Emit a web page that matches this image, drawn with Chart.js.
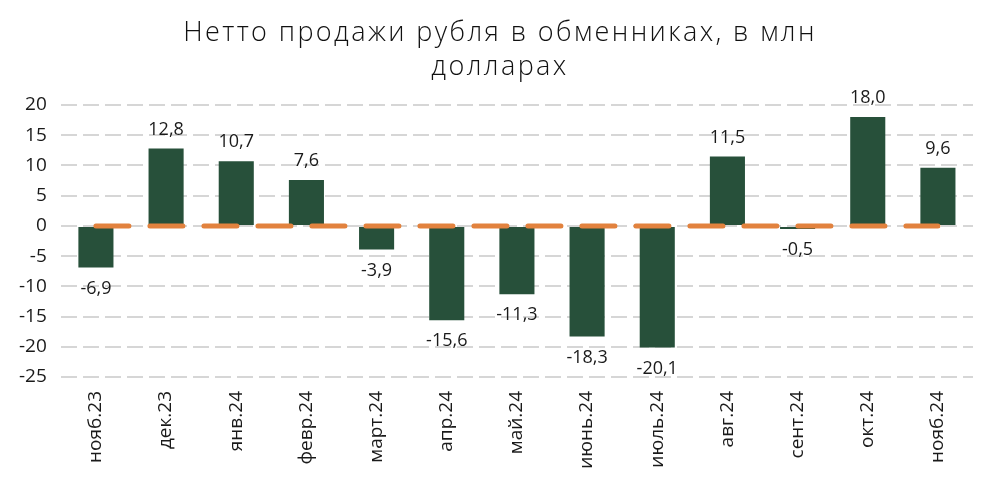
<!DOCTYPE html>
<html><head><meta charset="utf-8">
<script src="https://cdn.jsdelivr.net/npm/chart.js@4/dist/chart.umd.min.js"></script>
<style>html,body{margin:0;padding:0;background:#fff}#wrap{width:995px;height:481px}</style>
</head><body><div id="wrap"><canvas id="c"></canvas></div>
<script>
const categories = ["нояб.23","дек.23","янв.24","февр.24","март.24","апр.24","май.24","июнь.24","июль.24","авг.24","сент.24","окт.24","нояб.24"];
const netSales = [-6.9, 12.8, 10.7, 7.6, -3.9, -15.6, -11.3, -18.3, -20.1, 11.5, -0.5, 18.0, 9.6];
const zeroLine = [0,0,0,0,0,0,0,0,0,0,0,0,0];
const titleLines = ["Нетто продажи рубля в обменниках, в млн", "долларах"];

const FONT = "'Open Sans', sans-serif";
const labelPlugin = {
  id: 'valLabels',
  afterDatasetsDraw(chart) {
    const ctx = chart.ctx;
    const meta = chart.getDatasetMeta(0);
    ctx.save();
    ctx.font = "18px " + FONT;
    ctx.fillStyle = "#1a1a1a";
    ctx.textAlign = "center";
    ctx.textBaseline = "middle";
    meta.data.forEach((el, i) => {
      const v = netSales[i];
      const txt = v.toFixed(1).replace('.', ',');
      const y = v >= 0 ? el.y - 19 : el.y + 21;
      ctx.fillText(txt, el.x, y);
    });
    ctx.restore();
  }
};
const titleSpacing = {
  id: 'titleSpacing',
  beforeDraw(chart) {
    const tb = chart.titleBlock;
    if (tb && !tb._wrapped) {
      const orig = tb.draw.bind(tb);
      tb.draw = function() {
        const ctx = chart.ctx;
        ctx.save();
        ctx.letterSpacing = '2.4px';
        ctx.translate(11, 0);
        orig();
        ctx.restore();
      };
      tb._wrapped = true;
    }
  }
};

new Chart(document.getElementById('c'), {
  data: {
    labels: categories,
    datasets: [
      { type: 'bar', data: netSales, backgroundColor: '#27503a', barPercentage: 0.5, categoryPercentage: 1.0, order: 2 },
      { type: 'line', data: zeroLine, borderColor: '#e2823e', borderWidth: 5, borderDash: [33, 21], borderCapStyle: 'round', pointRadius: 0, order: 1 }
    ]
  },
  options: {
    responsive: true, maintainAspectRatio: false, animation: false,
    layout: { padding: { left: 5, right: 22, top: 4, bottom: 4 } },
    plugins: {
      legend: { display: false },
      tooltip: { enabled: false },
      title: { display: true, text: titleLines, color: '#111', font: { family: FONT, size: 27, weight: 300, lineHeight: '34px' }, padding: { top: 12, bottom: 21 } }
    },
    scales: {
      x: {
        grid: { display: false },
        border: { display: false },
        ticks: { color: '#1a1a1a', font: { family: FONT, size: 19 }, minRotation: 90, maxRotation: 90, padding: 6 },
        afterFit(scale) { scale.height = 100; }
      },
      y: {
        min: -25, max: 20,
        ticks: { stepSize: 5, color: '#1a1a1a', font: { family: FONT, size: 19 }, padding: 14 },
        grid: { color: '#d6d6d6', lineWidth: 2, drawTicks: false },
        border: { display: false, dash: [16, 6] }
      }
    }
  },
  plugins: [labelPlugin, titleSpacing]
});
</script></body></html>
